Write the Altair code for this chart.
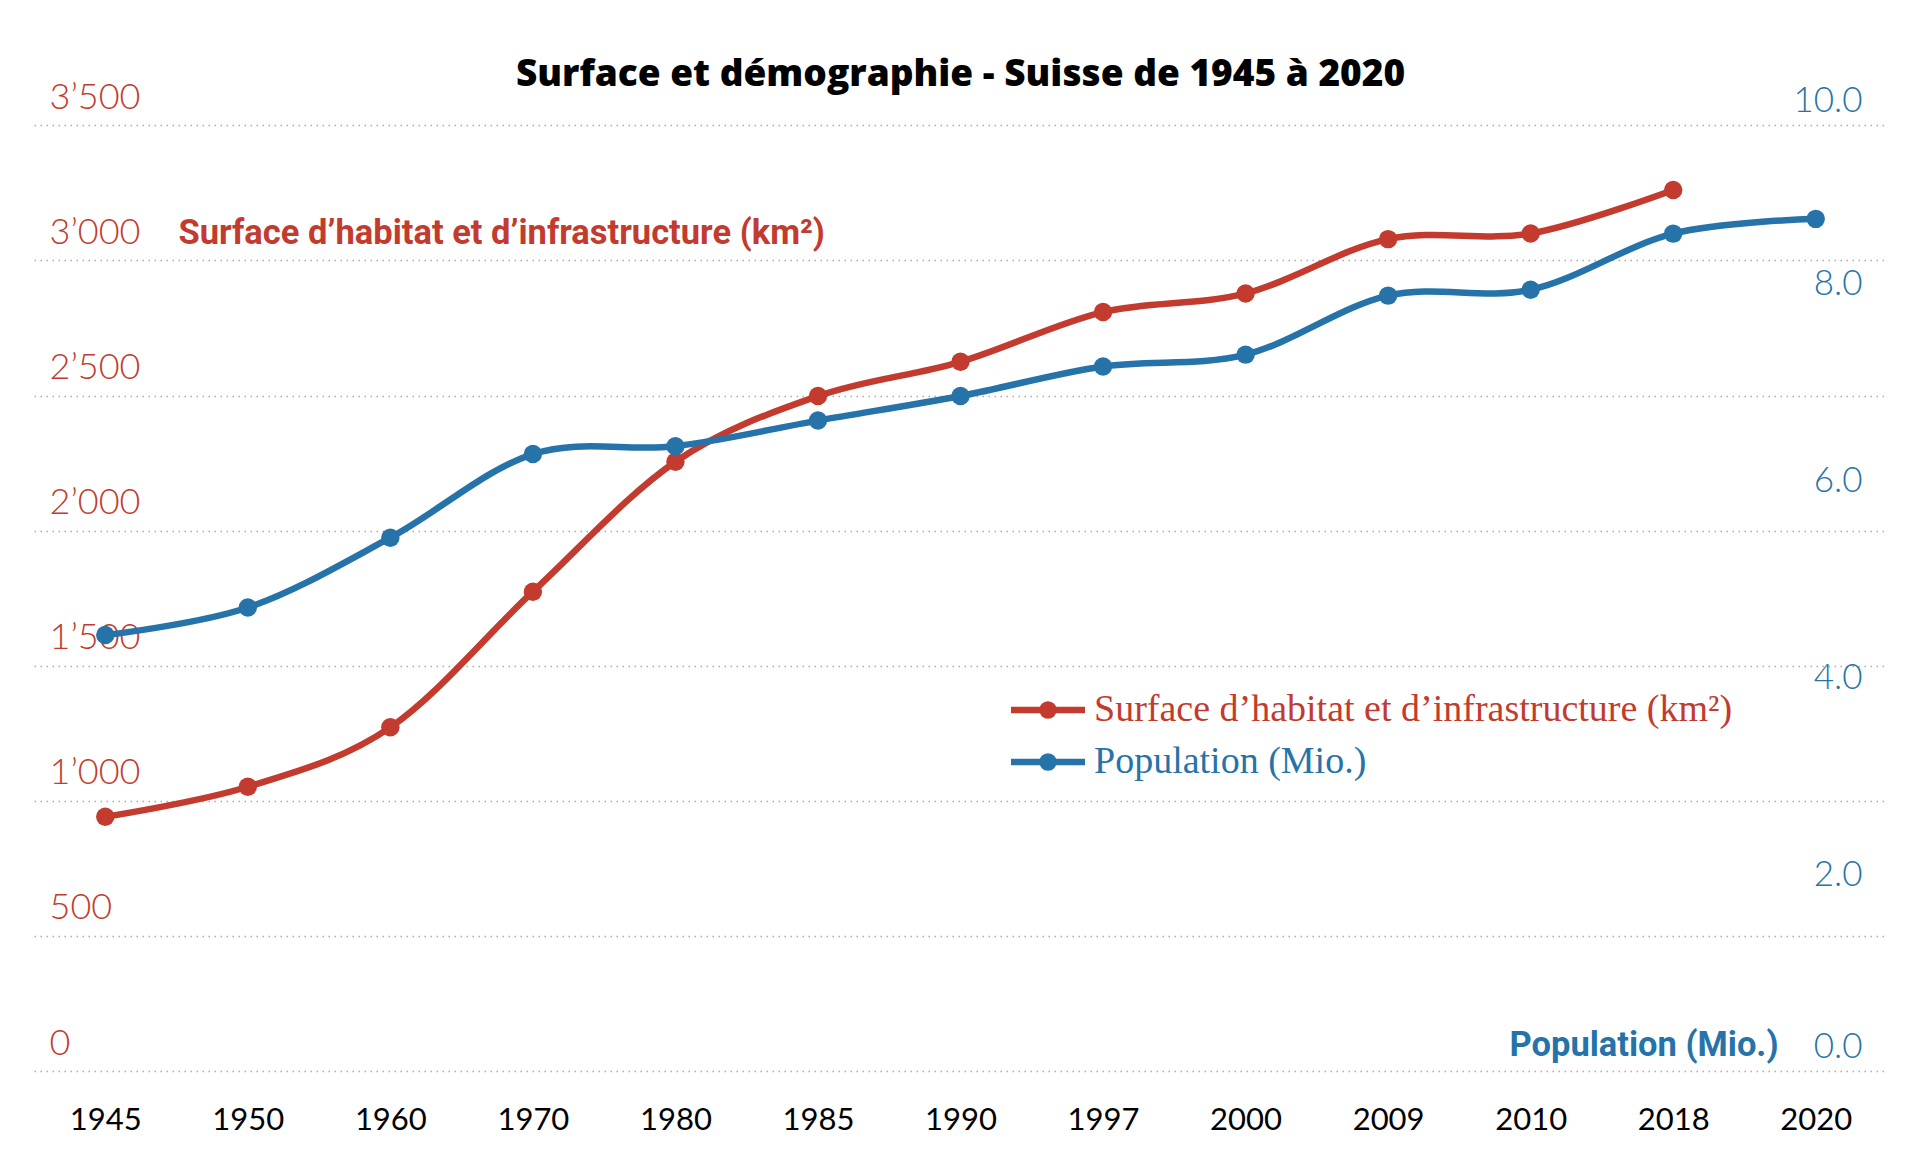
import altair as alt
import pandas as pd

# values
years = ['1945', '1950', '1960', '1970', '1980', '1985', '1990',
         '1997', '2000', '2009', '2010', '2018', '2020']
surface = [941, 1052, 1272, 1774, 2255, 2498, 2625,
           2809, 2878, 3079, 3100, 3261, None]
population = [4.43, 4.71, 5.42, 6.27, 6.35, 6.61, 6.86,
              7.16, 7.28, 7.88, 7.94, 8.51, 8.66]

surface_ticks = [0, 500, 1000, 1500, 2000, 2500, 3000, 3500]
pop_ticks = [0, 2, 4, 6, 8, 10]

surface_name = 'Surface d’habitat et d’infrastructure (km²)'
pop_name = 'Population (Mio.)'
title = 'Surface et démographie - Suisse de 1945 à 2020'

RED = '#c23b2e'
BLUE = '#2573a8'
NUM_FONT = 'Lato'
NARROW = 'Liberation Sans Narrow, Roboto, sans-serif'

df_surface = pd.DataFrame({'year': years, 'value': surface, 'series': surface_name}).dropna()
df_pop = pd.DataFrame({'year': years, 'value': population, 'series': pop_name})

# legend symbol: a line with a dot in the middle
symbol_path = ('M-2,0H2 '
               'M0.3,0A0.3,0.3 0 1,1 -0.3,0A0.3,0.3 0 1,1 0.3,0 '
               'M0.14,0A0.14,0.14 0 1,1 -0.14,0A0.14,0.14 0 1,1 0.14,0')

color = alt.Color(
    'series:N',
    scale=alt.Scale(domain=[surface_name, pop_name], range=[RED, BLUE]),
    legend=alt.Legend(
        title=None, orient='none', legendX=992, legendY=601,
        padding=0, rowPadding=11,
        symbolType=symbol_path, symbolSize=1369, symbolStrokeWidth=6.5,
        labelFont='Liberation Serif', labelFontSize=38, labelOffset=24,
        labelLimit=900,
        labelColor={'expr': f"datum.value == '{pop_name}' ? '{BLUE}' : '{RED}'"},
    ),
)

x = alt.X('year:O', scale=alt.Scale(type='point', padding=0.5),
          axis=alt.Axis(title=None, labelAngle=0, labelFont=NUM_FONT,
                        labelFontSize=31, labelColor='black', labelPadding=34,
                        ticks=False, domain=False, grid=False))

line_style = dict(interpolate='cardinal', strokeWidth=6.5,
                  point=alt.OverlayMarkDef(filled=True, size=340, opacity=1))

surface_line = alt.Chart(df_surface).mark_line(**line_style).encode(
    x=x,
    y=alt.Y('value:Q',
            scale=alt.Scale(domain=[0, 3642], nice=False),
            axis=alt.Axis(
                orient='left', values=surface_ticks,
                labelExpr="replace(format(datum.value, ','), ',', '’')",
                labelAlign='left', labelPadding=-15, labelBaseline='alphabetic',
                labelOffset=-17, labelFlush=False,
                labelFont=NUM_FONT, labelFontSize=36, labelFontWeight=300,
                labelColor=RED,
                ticks=False, tickSize=0, domain=False,
                grid=True, gridColor='#aaaaaa', gridDash=[1.5, 4.5], gridWidth=1.5,
                title=surface_name, titleAngle=0, titleAlign='left',
                titleBaseline='middle', titleX=144, titleY=146,
                titleFont=NARROW, titleFontSize=34.5, titleFontWeight='bold',
                titleColor=RED)),
    color=color,
)

pop_line = alt.Chart(df_pop).mark_line(**line_style).encode(
    x=x,
    y=alt.Y('value:Q',
            scale=alt.Scale(domain=[0, 10], nice=False),
            axis=alt.Axis(
                orient='right', values=pop_ticks, format='.1f',
                labelAlign='right', labelPadding=-25, labelBaseline='middle',
                labelFlush=False,
                labelOffset={'expr': 'datum.value == 10 ? 13 : (datum.value == 0 ? -25 : 0)'},
                labelFont=NUM_FONT, labelFontSize=35, labelFontWeight=300,
                labelColor=BLUE,
                ticks=False, tickSize=0, domain=False, grid=False,
                title=pop_name, titleAngle=0, titleAlign='right',
                titleBaseline='middle', titleX=-109, titleY=958,
                titleFont=NARROW, titleFontSize=34.5, titleFontWeight='bold',
                titleColor=BLUE)),
    color=color,
)

chart = alt.layer(surface_line, pop_line).resolve_scale(
    y='independent'
).properties(
    width=1853,
    height=984,
    title=alt.TitleParams(title, font='Open Sans', fontSize=37, fontWeight=800,
                          color='black', anchor='middle', frame='group',
                          baseline='alphabetic', offset=1, dy=45),
    autosize=alt.AutoSizeParams(type='none'),
    padding={'left': 26, 'top': 79, 'right': 20, 'bottom': 70},
    background='white',
).configure_view(stroke=None)

chart.save('out.html', embed_options={'renderer': 'svg', 'actions': False})
